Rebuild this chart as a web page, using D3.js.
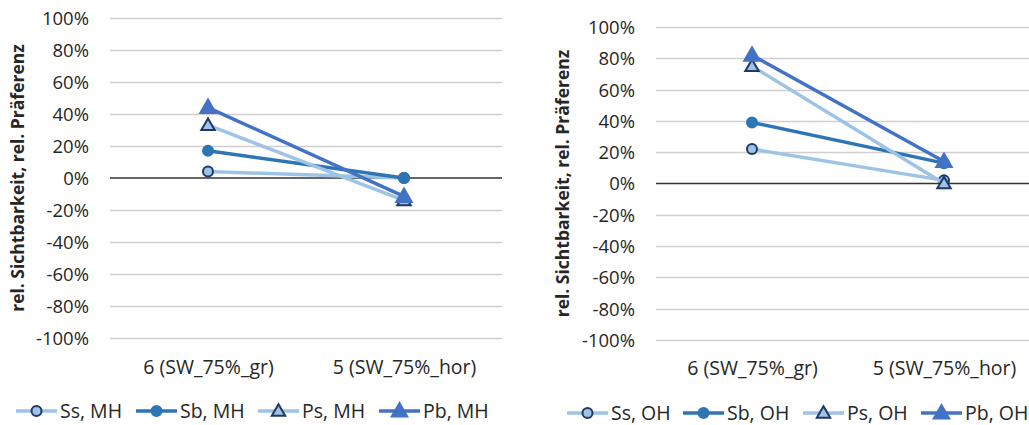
<!DOCTYPE html>
<html>
<head>
<meta charset="utf-8">
<script src="https://cdn.jsdelivr.net/npm/d3@7"></script>
<style>
  html, body { margin: 0; padding: 0; background: #fff; }
  svg { display: block; }
  text { font-family: "Open Sans", "Noto Sans", sans-serif; fill: #262626; }
</style>
</head>
<body>
<svg id="chart" width="1029" height="425"></svg>
<script>
// Categories on the x axis (same for both panels)
const categories = ["6 (SW_75%_gr)", "5 (SW_75%_hor)"];

// y-axis ticks, as fractions
const yTicks = [1, 0.8, 0.6, 0.4, 0.2, 0, -0.2, -0.4, -0.6, -0.8, -1];

// Series names
const seriesMH = ["Ss, MH", "Sb, MH", "Ps, MH", "Pb, MH"];
const seriesOH = ["Ss, OH", "Sb, OH", "Ps, OH", "Pb, OH"];

// Values per series (one per category) — MH panel
const ssMH = [0.04, 0.00];
const sbMH = [0.17, 0.00];
const psMH = [0.33, -0.14];
const pbMH = [0.44, -0.115];

// Values per series — OH panel
const ssOH = [0.22, 0.02];
const sbOH = [0.39, 0.13];
const psOH = [0.75, 0.00];
const pbOH = [0.82, 0.14];

const yTitle = "rel. Sichtbarkeit, rel. Präferenz";

// Series styling: line colour, marker shape, marker fill, marker stroke
const styles = [
  { line: "#9dc3e6", shape: "circle",   fill: "#9dc3e6", stroke: "#1f3864" },
  { line: "#2e75b6", shape: "circle",   fill: "#2e75b6", stroke: "#2e75b6" },
  { line: "#9dc3e6", shape: "triangle", fill: "#9dc3e6", stroke: "#1f3864" },
  { line: "#4472c4", shape: "triangle", fill: "#4472c4", stroke: "#4472c4" }
];

const svg = d3.select("#chart");
// percent labels with a plain hyphen for negatives
const pct = v => Math.round(v * 100) + "%";

function marker(g, st, x, y) {
  if (st.shape === "circle") {
    g.append("circle").attr("cx", x).attr("cy", y).attr("r", 5)
      .attr("fill", st.fill).attr("stroke", st.stroke).attr("stroke-width", 2);
  } else {
    const sym = d3.symbol().type(d3.symbolTriangle).size(st.stroke === st.fill ? 105 : 78);
    g.append("path").attr("d", sym()).attr("transform", `translate(${x},${y + 1})`)
      .attr("fill", st.fill).attr("stroke", st.stroke).attr("stroke-width", 2)
      .attr("stroke-linejoin", "miter");
  }
}

function drawPanel(p) {
  const g = svg.append("g");
  const x = d3.scalePoint().domain(categories).range(p.xr).padding(0.5);
  const y = d3.scaleLinear().domain([-1, 1]).range(p.yr);

  // Horizontal gridlines
  g.append("g").selectAll("line").data(yTicks.filter(t => t !== 0)).join("line")
    .attr("x1", p.xr[0]).attr("x2", p.xr[1])
    .attr("y1", d => Math.round(y(d)) + 0.5).attr("y2", d => Math.round(y(d)) + 0.5)
    .attr("stroke", "#d0d0d0").attr("stroke-width", 1.3);

  // Y tick labels
  const ya = d3.axisLeft(y).tickValues(yTicks).tickFormat(pct).tickSize(0).tickPadding(0);
  const yg = g.append("g").attr("transform", `translate(${p.labelRight},0)`).call(ya);
  yg.select(".domain").remove();
  yg.selectAll("text").style("font-size", "18.5px").attr("fill", "#262626")
    .attr("font-family", "Open Sans").attr("dy", "0.35em");

  // X tick labels
  const xa = d3.axisBottom(x).tickSize(0).tickPadding(0);
  const xg = g.append("g").attr("transform", `translate(0,${p.xLabelY})`).call(xa);
  xg.select(".domain").remove();
  xg.selectAll("text").style("font-size", "19.5px").attr("fill", "#262626").attr("dy", "0.35em");

  // Zero line
  g.append("line").attr("x1", p.xr[0]).attr("x2", p.xr[1])
    .attr("y1", y(0)).attr("y2", y(0)).attr("stroke", "#333").attr("stroke-width", 1.6);

  // Y axis title
  g.append("text")
    .attr("transform", `translate(${p.titleX},${(p.yr[0] + p.yr[1]) / 2}) rotate(-90)`)
    .attr("text-anchor", "middle").attr("dy", "0.35em")
    .style("font-size", "17.5px").style("font-weight", "bold").attr("fill", "#000")
    .text(yTitle);

  // Series lines and markers
  const line = d3.line().x((d, i) => x(categories[i])).y(d => y(d));
  p.values.forEach((vals, si) => {
    const st = styles[si];
    const sg = g.append("g");
    sg.append("path").attr("d", line(vals)).attr("fill", "none")
      .attr("stroke", st.line).attr("stroke-width", 3.5).attr("stroke-linecap", "round");
    vals.forEach((v, i) => marker(sg, st, x(categories[i]), y(v)));
  });

  // Legend
  const lg = g.append("g").attr("transform", `translate(0,${p.legendY})`);
  p.names.forEach((name, si) => {
    const st = styles[si];
    const x0 = p.legendX[si];
    lg.append("line").attr("x1", x0).attr("x2", x0 + 41).attr("y1", 0).attr("y2", 0)
      .attr("stroke", st.line).attr("stroke-width", 3.5);
    marker(lg, st, x0 + 20.5, 0);
    lg.append("text").attr("x", x0 + 44).attr("y", 0).attr("dy", "0.35em")
      .style("font-size", "19.5px").attr("fill", "#262626").text(name);
  });
}

drawPanel({
  xr: [110, 502], yr: [338, 18], labelRight: 89, xLabelY: 367, titleX: 18,
  legendY: 411, legendX: [16, 136, 258, 379],
  names: seriesMH, values: [ssMH, sbMH, psMH, pbMH]
});

drawPanel({
  xr: [656, 1040], yr: [340, 27], labelRight: 635, xLabelY: 368, titleX: 563,
  legendY: 413, legendX: [567, 683, 803, 921],
  names: seriesOH, values: [ssOH, sbOH, psOH, pbOH]
});
</script>
</body>
</html>
